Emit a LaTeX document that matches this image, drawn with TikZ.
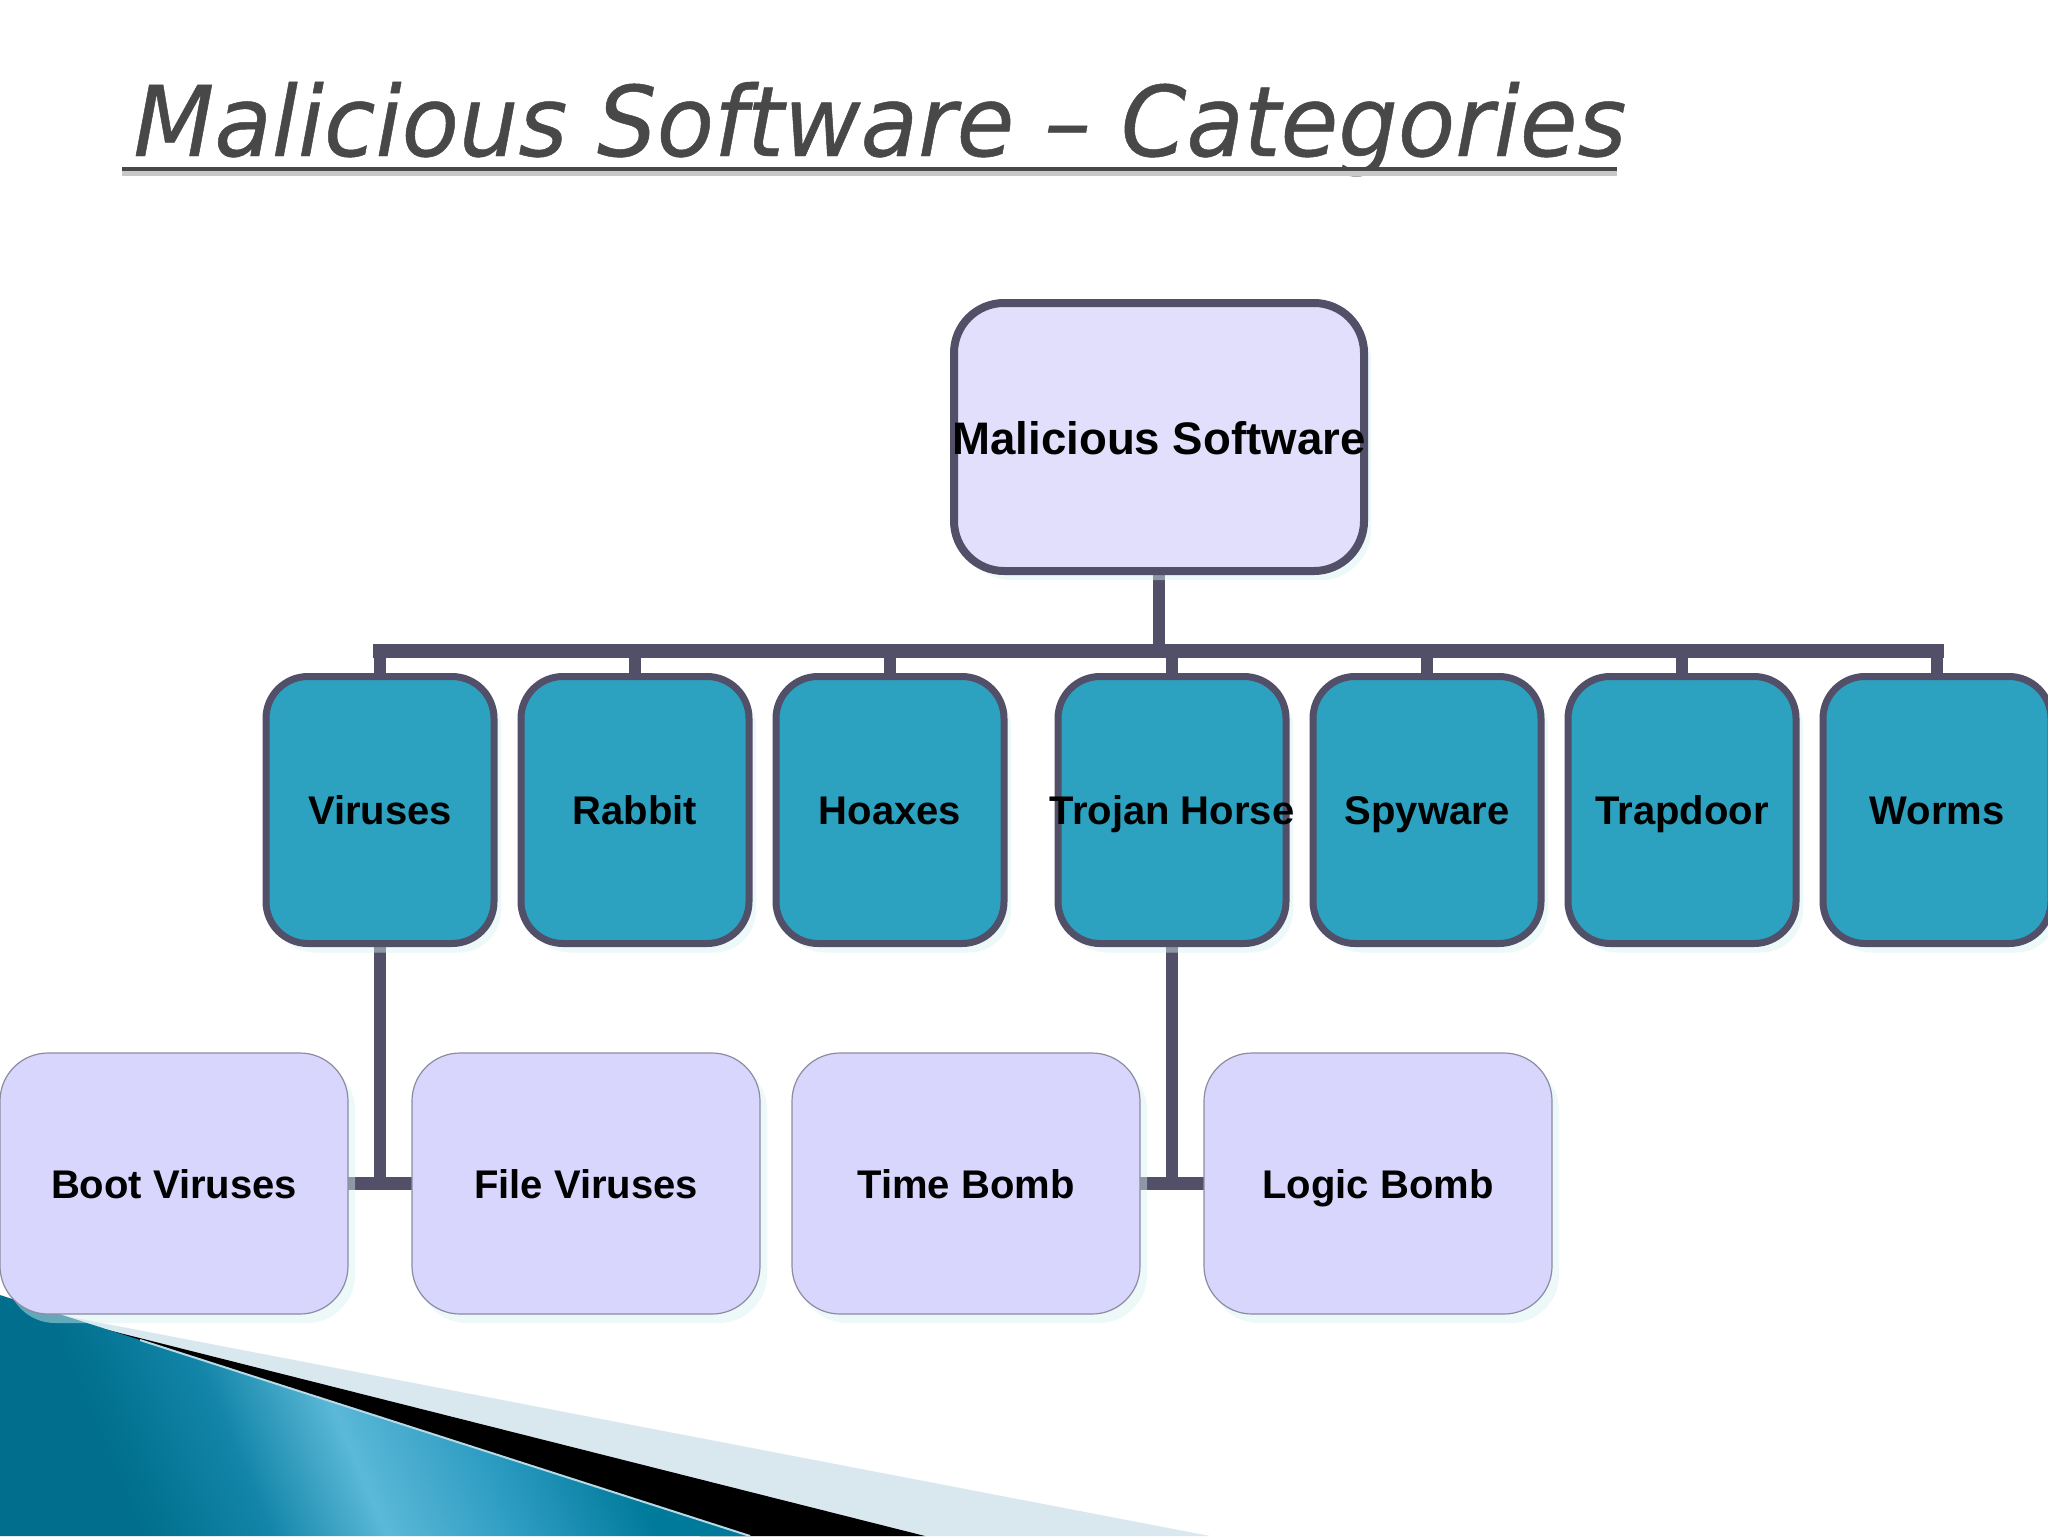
\documentclass[tikz,border=0pt]{standalone}
\usepackage{fontspec}
\setmainfont{Liberation Sans}
\newfontfamily\titlefont{DejaVu Sans}[ItalicFeatures={FakeBold=0.5,FakeStretch=0.963}]
\usetikzlibrary{shadows,backgrounds}
\definecolor{edgeC}{HTML}{524F68}
\definecolor{rootF}{HTML}{E2DFFC}
\definecolor{tealF}{HTML}{2DA2C0}
\definecolor{leafF}{HTML}{D8D6FC}
\definecolor{leafE}{HTML}{8C8CA0}
\definecolor{shadowC}{HTML}{D9F0F3}
\definecolor{titleC}{HTML}{484848}
\definecolor{bandC}{HTML}{D9E8EF}
\definecolor{bladeA}{HTML}{006E8C}
\definecolor{bladeB}{HTML}{1285A8}
\definecolor{bladeC}{HTML}{5BB8D8}
\definecolor{bladeD}{HTML}{2A9AC0}
\definecolor{bladeE}{HTML}{007A9A}
\pgfdeclarehorizontalshading{bladeshade}{100bp}{
  color(0bp)=(bladeA);
  color(28bp)=(bladeA);
  color(38bp)=(bladeB);
  color(47bp)=(bladeC);
  color(58bp)=(bladeD);
  color(68bp)=(bladeE);
  color(100bp)=(bladeE)}
\newcommand{\lab}[1]{\makebox[0pt]{#1}}
\tikzset{
  boxshadow/.style={drop shadow={shadow xshift=3.5pt,shadow yshift=-4.5pt,fill=shadowC,opacity=.45}},
  basebox/.style={shape=rectangle,inner sep=0pt,outer sep=0pt,align=center,text=black,boxshadow},
  rootbox/.style={basebox,draw=edgeC,line width=4pt,fill=rootF,rounded corners=25pt,
    minimum width=205pt,minimum height=134pt,font=\fontsize{22.8}{26}\selectfont\bfseries,text height=17pt,text depth=0pt},
  catbox/.style={basebox,draw=edgeC,line width=3.5pt,fill=tealF,rounded corners=21pt,
    minimum width=114pt,minimum height=133.5pt,font=\fontsize{20}{23}\selectfont\bfseries,text height=14pt,text depth=0pt},
  leafbox/.style={basebox,draw=leafE,line width=.6pt,fill=leafF,rounded corners=24pt,
    minimum width=174pt,minimum height=130.5pt,font=\fontsize{20}{23}\selectfont\bfseries,text height=15pt,text depth=0pt},
  conn/.style={draw=edgeC,line width=6.2pt},
  busline/.style={draw=edgeC,line width=7pt,line cap=rect},
}
\begin{document}
\begin{tikzpicture}[x=.5pt,y=-.5pt]
\useasboundingbox (0,0) rectangle (2048,1536);
\node[rootbox] (root) at (1159,437) {\lab{Malicious Software}};
\node[catbox] (vir) at (380,810) {\lab{Viruses}};
\node[catbox] (rab) at (635,810) {\lab{Rabbit}};
\node[catbox] (hoa) at (890,810) {\lab{Hoaxes}};
\node[catbox] (tro) at (1172,810) {\lab{Trojan Horse}};
\node[catbox] (spy) at (1427,810) {\lab{Spyware}};
\node[catbox] (tra) at (1682,810) {\lab{Trapdoor}};
\node[catbox] (wor) at (1937,810) {\lab{Worms}};
\node[leafbox] (boot) at (174,1183.5) {\lab{Boot Viruses}};
\node[leafbox] (file) at (586,1183.5) {\lab{File Viruses}};
\node[leafbox] (time) at (966,1183.5) {\lab{Time Bomb}};
\node[leafbox] (logic) at (1378,1183.5) {\lab{Logic Bomb}};
\coordinate (busy) at (0,650.5);
\node[anchor=base west,inner sep=0pt,text=titleC,font=\titlefont\itshape\fontsize{48.7}{56}\selectfont] (title) at (133,156) {Malicious Software – Categories};
\fill[titleC!30] (122,171) rectangle (1617,176);
\fill[titleC] (122,166.5) rectangle (1617,171);
\begin{pgfonlayer}{background}
  \fill[white] (0,0) rectangle (2048,1536);
  \fill[bandC] (60,1315) -- (1210,1536) -- (700,1536) -- (60,1320) -- cycle;
  \fill[black] (100,1328) -- (925,1536) -- (700,1536) -- cycle;
  \shade[shading=bladeshade,shading angle=23] (0,1295) -- (750,1536) -- (0,1536) -- cycle;
  \draw[color=bandC!80!tealF,line width=1pt] (140,1340) -- (750,1536);
  \draw[conn] (root.south) -- (root.south |- busy);
  \draw[busline] (vir.north |- busy) -- (wor.north |- busy);
  \foreach \n in {vir,rab,hoa,tro,spy,tra,wor}
    \draw[conn] (\n.north |- busy) -- (\n.north);
  \draw[conn] (vir.south) |- (boot.east);
  \draw[conn] (vir.south) |- (file.west);
  \draw[conn] (tro.south) |- (time.east);
  \draw[conn] (tro.south) |- (logic.west);
\end{pgfonlayer}
\end{tikzpicture}
\end{document}
